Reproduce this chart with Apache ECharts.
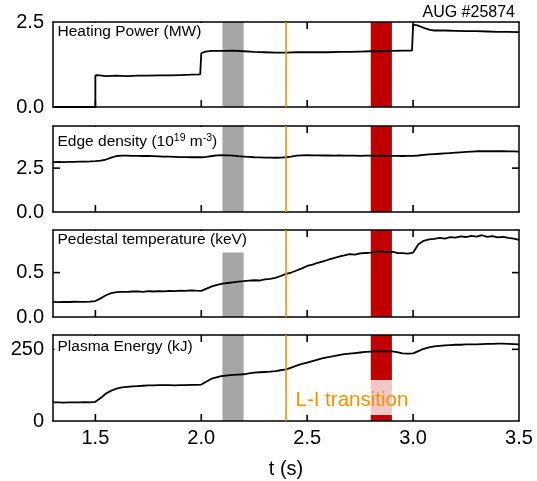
<!DOCTYPE html>
<html>
<head>
<meta charset="utf-8">
<script src="https://cdn.jsdelivr.net/npm/echarts@6/dist/echarts.min.js"></script>
<style>
  html, body { margin: 0; padding: 0; background: #fff; }
  #chart { width: 537px; height: 481px; }
</style>
</head>
<body>
<div id="chart"></div>
<script>
// ---- discharge AUG #25874: time traces ----

// Heating power is stepwise, so it has its own time base (repeated times = steps)
const powerTime = [
  1.300, 1.500, 1.500, 1.510, 1.550, 1.600, 1.650, 1.700, 1.750, 1.800, 1.850, 1.900, 1.950, 1.995,
  2.000, 2.020, 2.050, 2.100, 2.150, 2.200, 2.250, 2.300, 2.350, 2.400, 2.450, 2.500, 2.550, 2.600,
  2.650, 2.700, 2.750, 2.800, 2.850, 2.900, 2.950, 2.995,
  3.000, 3.020, 3.050, 3.080, 3.100, 3.150, 3.200, 3.250, 3.300, 3.350, 3.400, 3.450, 3.500
];
const powerMW = [
  0.00, 0.00, 0.93, 0.94, 0.91, 0.92, 0.91, 0.92, 0.92, 0.93, 0.93, 0.94, 0.95, 0.96,
  1.58, 1.63, 1.65, 1.65, 1.66, 1.64, 1.62, 1.61, 1.60, 1.60, 1.61, 1.61, 1.61, 1.61,
  1.62, 1.62, 1.63, 1.64, 1.64, 1.65, 1.66, 1.66,
  2.42, 2.40, 2.33, 2.27, 2.25, 2.25, 2.24, 2.23, 2.23, 2.22, 2.21, 2.21, 2.20
];

// Common time base of the diagnostics (s)
const timeGrid = [
  1.300, 1.325, 1.350, 1.375, 1.400, 1.425, 1.450, 1.475,
  1.500, 1.525, 1.550, 1.575, 1.600, 1.625, 1.650, 1.675,
  1.700, 1.725, 1.750, 1.775, 1.800, 1.825, 1.850, 1.875,
  1.900, 1.925, 1.950, 1.975, 2.000, 2.025, 2.050, 2.075,
  2.100, 2.125, 2.150, 2.175, 2.200, 2.225, 2.250, 2.275,
  2.300, 2.325, 2.350, 2.375, 2.400, 2.425, 2.450, 2.475,
  2.500, 2.525, 2.550, 2.575, 2.600, 2.625, 2.650, 2.675,
  2.700, 2.725, 2.750, 2.775, 2.800, 2.825, 2.850, 2.875,
  2.900, 2.925, 2.950, 2.975, 3.000, 3.025, 3.050, 3.075,
  3.100, 3.125, 3.150, 3.175, 3.200, 3.225, 3.250, 3.275,
  3.300, 3.325, 3.350, 3.375, 3.400, 3.425, 3.450, 3.475,
  3.500
];

// Edge density (1e19 m^-3)
const edgeDensity = [
  2.84, 2.85, 2.84, 2.86, 2.86, 2.87, 2.87, 2.88,
  2.90, 2.93, 2.99, 3.10, 3.19, 3.21, 3.21, 3.20,
  3.20, 3.19, 3.19, 3.18, 3.17, 3.16, 3.15, 3.14,
  3.13, 3.13, 3.12, 3.12, 3.12, 3.14, 3.19, 3.23,
  3.24, 3.23, 3.21, 3.18, 3.16, 3.14, 3.12, 3.11,
  3.10, 3.10, 3.09, 3.10, 3.12, 3.16, 3.21, 3.23,
  3.24, 3.23, 3.23, 3.22, 3.22, 3.21, 3.22, 3.21,
  3.21, 3.21, 3.20, 3.21, 3.21, 3.20, 3.21, 3.20,
  3.20, 3.20, 3.19, 3.20, 3.20, 3.22, 3.25, 3.28,
  3.30, 3.32, 3.34, 3.36, 3.38, 3.40, 3.42, 3.44,
  3.46, 3.47, 3.46, 3.47, 3.46, 3.46, 3.45, 3.45,
  3.44
];

// Pedestal electron temperature (keV)
const pedestalTe = [
  0.170, 0.168, 0.171, 0.169, 0.172, 0.170, 0.171, 0.173,
  0.180, 0.210, 0.245, 0.268, 0.280, 0.284, 0.282, 0.287,
  0.288, 0.284, 0.291, 0.287, 0.292, 0.289, 0.295, 0.292,
  0.298, 0.294, 0.300, 0.296, 0.295, 0.320, 0.345, 0.362,
  0.375, 0.383, 0.391, 0.398, 0.403, 0.409, 0.414, 0.411,
  0.424, 0.430, 0.441, 0.462, 0.485, 0.501, 0.524, 0.548,
  0.575, 0.590, 0.611, 0.626, 0.645, 0.662, 0.681, 0.694,
  0.708, 0.702, 0.716, 0.721, 0.726, 0.734, 0.742, 0.726,
  0.736, 0.721, 0.719, 0.714, 0.725, 0.820, 0.858, 0.874,
  0.880, 0.891, 0.884, 0.899, 0.895, 0.909, 0.901, 0.915,
  0.905, 0.921, 0.902, 0.911, 0.896, 0.902, 0.891, 0.884,
  0.870
];

// Stored plasma energy (kJ)
const plasmaEnergy = [
  65, 65, 64, 65, 65, 65, 66, 65,
  67, 80, 96, 106, 113, 117, 119, 121,
  122, 123, 124, 124, 125, 125, 125, 124,
  125, 125, 126, 126, 127, 138, 148, 153,
  157, 159, 161, 162, 163, 166, 169, 170,
  171, 172, 174, 177, 180, 186, 193, 199,
  204, 209, 214, 219, 223, 226, 230, 233,
  235, 237, 239, 241, 242, 243, 243, 244,
  243, 240, 236, 235, 236, 244, 252, 257,
  260, 262, 264, 265, 266, 266, 267, 267,
  267, 268, 269, 269, 270, 270, 269, 268,
  267
];

// Axis ticks, ranges and marked time windows
const xRange = [1.3, 3.5];
const xTicks = [1.5, 2.0, 2.5, 3.0, 3.5];
const yTicks = [[0, 2.5], [0, 2.5], [0, 0.5], [0, 250]];
const yMax = [2.5, 4.9, 0.98, 300];
const yDecimals = [1, 1, 1, 0];
const grayWindow = [2.1, 2.2];
const redWindow = [2.8, 2.9];
const transitionTime = 2.4;
const shotLabel = 'AUG #25874';
const transitionLabel = 'L-I transition';

const FONT = '"Liberation Sans", Arial, Helvetica, sans-serif';
const ORANGE = '#f39200';
const TICK_LEN = 7;
const TICK_W = 1.6;

const panels = [
  { x: powerTime, y: powerMW, top: 22, height: 85,
    title: 'Heating Power (MW)', titleTop: 23, pad: [0, 3, 3, 3] },
  { x: timeGrid, y: edgeDensity, top: 126, height: 86,
    title: 'Edge density (10{sup|19} m{sup|-3})', titleTop: 127, pad: [6, 3, 2, 3] },
  { x: timeGrid, y: pedestalTe, top: 230, height: 87,
    title: 'Pedestal temperature (keV)', titleTop: 231, pad: [0, 3, 3.5, 3] },
  { x: timeGrid, y: plasmaEnergy, top: 335, height: 86,
    title: 'Plasma Energy (kJ)', titleTop: 336, pad: [1.6, 3, 3, 3] }
];

const grid = [], xAxis = [], yAxis = [], series = [], title = [];
// frame lines stay on their own side of the panel (no snapping to zero)
const frame = () => ({ show: true, onZero: false, lineStyle: { color: '#000', width: 1.5 } });

panels.forEach((p, i) => {
  grid.push({ left: 53, right: 18, top: p.top, height: p.height });

  // bottom and top x axes (the top one only closes the frame)
  xAxis.push({
    gridIndex: i, type: 'value', min: xRange[0], max: xRange[1], position: 'bottom', z: 3,
    axisLine: frame(), splitLine: { show: false }, axisTick: { show: false },
    axisLabel: {
      show: i === panels.length - 1, customValues: xTicks, formatter: v => v.toFixed(1),
      fontSize: 20, color: '#000', fontFamily: FONT, margin: 7
    },
    name: i === panels.length - 1 ? 't (s)' : '', nameLocation: 'middle', nameGap: 38,
    nameTextStyle: { fontSize: 20, color: '#000', fontFamily: FONT }
  });
  xAxis.push({
    gridIndex: i, type: 'value', min: xRange[0], max: xRange[1], position: 'top', z: 3,
    axisLine: frame(), splitLine: { show: false }, axisTick: { show: false }, axisLabel: { show: false }
  });

  // left and right y axes
  yAxis.push({
    gridIndex: i, type: 'value', min: 0, max: yMax[i], position: 'left', z: 3,
    axisLine: frame(), splitLine: { show: false }, axisTick: { show: false },
    axisLabel: {
      show: true, customValues: yTicks[i], formatter: v => v.toFixed(yDecimals[i]),
      fontSize: 20, color: '#000', fontFamily: FONT, margin: 9
    }
  });
  yAxis.push({
    gridIndex: i, type: 'value', min: 0, max: yMax[i], position: 'right', z: 3,
    axisLine: frame(), splitLine: { show: false }, axisTick: { show: false }, axisLabel: { show: false }
  });

  series.push({
    type: 'line', xAxisIndex: 2 * i, yAxisIndex: 2 * i,
    data: p.x.map((t, k) => [t, p.y[k]]),
    showSymbol: false, symbol: 'none',
    lineStyle: { color: '#000', width: 1.8 },
    animation: false, silent: true,
    markArea: {
      silent: true,
      data: [
        [{ xAxis: grayWindow[0], itemStyle: { color: '#a6a6a6', opacity: 1 } }, { xAxis: grayWindow[1] }],
        [{ xAxis: redWindow[0], itemStyle: { color: '#c00000', opacity: 1 } }, { xAxis: redWindow[1] }]
      ]
    },
    markLine: {
      silent: true, symbol: ['none', 'none'], label: { show: false },
      lineStyle: { color: ORANGE, width: 1.6, type: 'solid' },
      data: [{ xAxis: transitionTime }]
    }
  });

  // panel caption on an opaque box
  title.push({
    text: p.title, left: 54.5, top: p.titleTop, padding: p.pad, backgroundColor: '#fff',
    textStyle: {
      fontSize: 15.5, fontWeight: 'normal', color: '#000', fontFamily: FONT, lineHeight: 18,
      rich: { sup: { fontSize: 10.5, lineHeight: 10, verticalAlign: 'top', color: '#000', fontFamily: FONT } }
    }
  });
});

title.push({
  text: shotLabel, right: 22, top: 5, padding: 0,
  textStyle: { fontSize: 16, fontWeight: 'normal', color: '#000', fontFamily: FONT, lineHeight: 16 }
});

const chart = echarts.init(document.getElementById('chart'));
chart.setOption({ backgroundColor: '#fff', animation: false, title, grid, xAxis, yAxis, series });

// Inward tick marks on all four sides of each panel, placed through each panel's coordinate system
const graphics = [];
const tick = (x, y, w, h) => ({
  type: 'rect', z: 5, silent: true,
  shape: { x: Math.min(x, x + w), y: Math.min(y, y + h), width: Math.abs(w), height: Math.abs(h) },
  style: { fill: '#000' }
});
panels.forEach((p, i) => {
  const toPx = (t, v) => chart.convertToPixel({ seriesIndex: i }, [t, v]);
  const [left, bottom] = toPx(xRange[0], 0);
  const [right, top] = toPx(xRange[1], yMax[i]);
  xTicks.filter(v => v > xRange[0] && v < xRange[1]).forEach(v => {
    const x = toPx(v, 0)[0] - TICK_W / 2;
    graphics.push(tick(x, bottom, TICK_W, -TICK_LEN), tick(x, top, TICK_W, TICK_LEN));
  });
  yTicks[i].filter(v => v > 0 && v < yMax[i]).forEach(v => {
    const y = toPx(xRange[0], v)[1] - TICK_W / 2;
    graphics.push(tick(left, y, TICK_LEN, TICK_W), tick(right, y, -TICK_LEN, TICK_W));
  });
});

// Transition annotation, just right of the transition line in the bottom panel
const xLine = chart.convertToPixel({ seriesIndex: 3 }, [transitionTime, 0])[0];
graphics.push({
  type: 'text', z: 100, silent: true, x: xLine + 7.5, y: 380,
  style: {
    text: transitionLabel, fill: ORANGE, fontSize: 20.5, fontFamily: FONT, lineHeight: 20,
    backgroundColor: 'rgba(255,255,255,0.78)', padding: [10, 2, 5, 2], verticalAlign: 'top', align: 'left'
  }
});
chart.setOption({ graphic: graphics });
</script>
</body>
</html>
